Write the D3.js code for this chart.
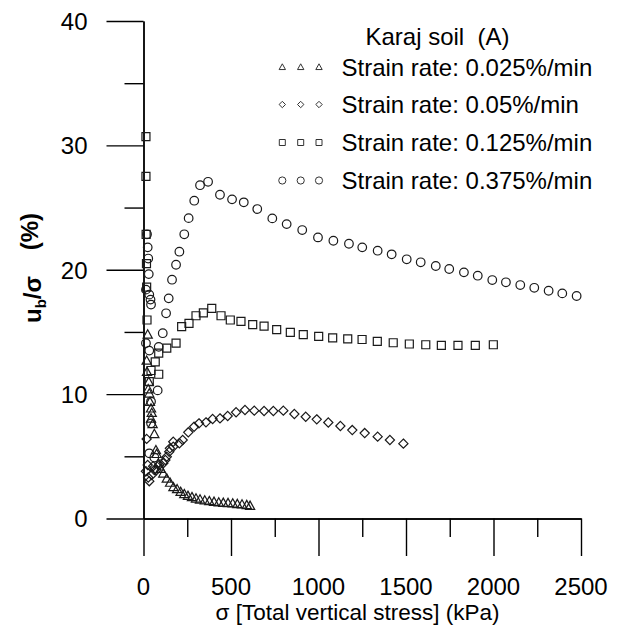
<!DOCTYPE html>
<html>
<head>
<meta charset="utf-8">
<script src="https://cdn.jsdelivr.net/npm/d3@7"></script>
<style>
  html, body { margin: 0; padding: 0; background: #fff; }
  svg { display: block; }
  text { font-family: "Liberation Sans", Arial, Helvetica, sans-serif; fill: #000; }
</style>
</head>
<body>
<svg id="chart" width="622" height="631"></svg>
<script>
// ---------------- data ----------------
const xTicks = [0, 500, 1000, 1500, 2000, 2500];
const xMinorTicks = [250, 750, 1250, 1750, 2250];
const yTicks = [0, 10, 20, 30, 40];
const yMinorTicks = [5, 15, 25, 35];

const legendTitle = "Karaj soil\u00a0\u00a0(A)";
const seriesNames = ["Strain rate: 0.025%/min", "Strain rate: 0.05%/min", "Strain rate: 0.125%/min", "Strain rate: 0.375%/min"];
const seriesShapes = ["triangle", "diamond", "square", "circle"];

// [sigma (kPa), ub/sigma (%)]
const rate0025 = [
  [24,14.8],[18,12.7],[20,11.8],[30,11.0],[27,10.4],[33,10.06],[37,9.39],[43,8.86],[47,8.5],[43,8.05],
  [52,7.6],[62,6.8],[71,5.5],[75,5.2],[85,4.44],[98,4.0],[113,3.63],[133,3.22],[152,2.89],[171,2.53],
  [192,2.37],[212,2.15],[233,1.97],[254,1.83],[277,1.73],[300,1.62],[323,1.54],[350,1.46],[376,1.41],
  [403,1.35],[430,1.30],[456,1.27],[483,1.25],[510,1.22],[536,1.17],[563,1.14],[590,1.09],[609,1.03]
];
const rate005 = [
  [18,6.4],[14,3.8],[24,4.3],[33,3.0],[27,3.3],[47,3.5],[55,4.2],[62,3.9],[75,3.9],[90,4.3],[113,4.44],
  [125,4.7],[133,4.97],[147,5.37],[151,5.64],[170,5.77],[170,6.17],[205,6.05],[224,6.31],[256,6.93],
  [289,7.38],[317,7.65],[357,7.73],[395,8.0],[437,8.05],[481,8.24],[529,8.54],[580,8.72],[633,8.67],
  [689,8.64],[742,8.64],[799,8.67],[862,8.4],[927,8.18],[990,7.97],[1056,7.72],[1125,7.44],[1193,7.11],
  [1264,6.87],[1338,6.58],[1408,6.31],[1485,6.02]
];
const rate0125 = [
  [14,30.7],[14,27.5],[15,22.85],[17,20.5],[18,18.6],[20,15.96],[33,11.0],[43,11.9],[67,12.6],[87,11.6],
  [87,13.3],[133,13.7],[186,14.1],[218,15.42],[260,15.69],[300,16.30],[342,16.54],[390,16.90],[443,16.30],
  [496,15.96],[557,15.85],[624,15.58],[689,15.47],[761,15.18],[839,14.97],[913,14.78],[1001,14.65],
  [1081,14.53],[1167,14.45],[1249,14.39],[1336,14.24],[1427,14.13],[1519,14.03],[1613,13.97],[1702,13.92],
  [1797,13.92],[1896,13.92],[1999,13.97]
];
const rate0375 = [
  [20,22.85],[24,21.8],[27,20.9],[30,19.65],[14,18.4],[33,18.0],[40,17.6],[43,17.2],[14,14.1],[33,13.5],
  [87,13.8],[81,10.3],[43,9.4],[43,7.65],[33,5.24],[62,4.9],
  [110,14.9],[129,16.5],[144,17.7],[163,19.2],[186,20.4],[205,21.45],[233,22.85],[258,24.15],[290,25.55],
  [323,26.8],[369,27.07],[437,26.03],[506,25.66],[573,25.42],[650,24.88],[736,24.13],[818,23.67],
  [907,23.19],[997,22.6],[1085,22.33],[1174,22.09],[1250,21.8],[1338,21.53],[1418,21.24],[1504,20.84],
  [1584,20.6],[1670,20.3],[1747,20.06],[1831,19.79],[1910,19.52],[1993,19.17],[2071,18.99],[2153,18.77],
  [2233,18.55],[2315,18.31],[2393,18.1],[2475,17.89]
];
const seriesData = [rate0025, rate005, rate0125, rate0375];

// ---------------- layout ----------------
const svg = d3.select("#chart");
const x = d3.scaleLinear().domain([0, 2500]).range([143.5, 581]);
const y = d3.scaleLinear().domain([0, 40]).range([518.5, 21]);

function shapePath(type, s) {
  if (type === "circle") {
    return `M${s},0A${s},${s} 0 1,1 ${-s},0A${s},${s} 0 1,1 ${s},0Z`;
  } else if (type === "square") {
    return `M${-s},${-s}H${s}V${s}H${-s}Z`;
  } else if (type === "diamond") {
    return `M0,${-s}L${s},0L0,${s}L${-s},0Z`;
  } else { // triangle
    return `M0,${-s}L${s},${s * 0.8}L${-s},${s * 0.8}Z`;
  }
}
const markSize = { triangle: 4.6, diamond: 4.6, square: 4.0, circle: 4.3 };
const legendSize = { triangle: 3.2, diamond: 3.2, square: 3.0, circle: 3.6 };

// ---------------- axes ----------------
const axisG = svg.append("g");
const xMajor = d3.axisBottom(x).tickValues(xTicks).tickSize(37.5).tickSizeOuter(0).tickFormat("");
const xMinor = d3.axisBottom(x).tickValues(xMinorTicks).tickSize(18.5).tickSizeOuter(0).tickFormat("");
const yMajor = d3.axisLeft(y).tickValues(yTicks).tickSize(37).tickSizeOuter(0).tickFormat("");
const yMinor = d3.axisLeft(y).tickValues(yMinorTicks).tickSize(19).tickSizeOuter(0).tickFormat("");

[[xMajor, `translate(0,${y(0)})`], [xMinor, `translate(0,${y(0)})`],
 [yMajor, `translate(${x(0)},0)`], [yMinor, `translate(${x(0)},0)`]].forEach(([ax, tr]) => {
  const g = axisG.append("g").attr("transform", tr).call(ax);
  g.selectAll("path, line").attr("stroke", "#000").attr("stroke-width", 1.4);
  g.selectAll("text").remove();
});

// tick labels
svg.append("g").selectAll("text").data(xTicks).join("text")
  .attr("x", d => x(d)).attr("y", 595)
  .attr("text-anchor", "middle").attr("font-size", 24)
  .text(d => d);
svg.append("g").selectAll("text").data(yTicks).join("text")
  .attr("x", 87.5).attr("y", d => y(d)).attr("dy", "0.37em")
  .attr("text-anchor", "end").attr("font-size", 24)
  .text(d => d);

// axis titles
svg.append("text")
  .attr("x", 357.5).attr("y", 620)
  .attr("text-anchor", "middle").attr("font-size", 22.5)
  .text("σ [Total vertical stress] (kPa)");

const yt = svg.append("text")
  .attr("transform", "translate(41,323) rotate(-90)")
  .attr("font-size", 24).attr("font-weight", "bold");
yt.append("tspan").text("u");
yt.append("tspan").attr("font-size", 15).attr("dy", 5).text("b");
yt.append("tspan").attr("dy", -5).text("/σ");
svg.append("text")
  .attr("transform", "translate(38,213) rotate(-90)")
  .attr("text-anchor", "end")
  .attr("font-size", 24).attr("font-weight", "bold")
  .text("(%)");

// ---------------- markers ----------------
const markG = svg.append("g");
seriesData.forEach((data, i) => {
  const shape = seriesShapes[i];
  markG.append("g").selectAll("path").data(data).join("path")
    .attr("transform", d => `translate(${x(d[0])},${y(d[1])})`)
    .attr("d", shapePath(shape, markSize[shape]))
    .attr("fill", "none").attr("stroke", "#1a1a1a").attr("stroke-width", 1.2);
});

// ---------------- legend ----------------
const leg = svg.append("g");
leg.append("text").attr("x", 437.5).attr("y", 45).attr("text-anchor", "middle")
  .attr("font-size", 24).text(legendTitle);
const rowY = [67, 104.5, 142.5, 180.5];
seriesNames.forEach((name, i) => {
  const shape = seriesShapes[i];
  const g = leg.append("g");
  [282.3, 300.7, 319].forEach(mx => {
    g.append("path").attr("transform", `translate(${mx},${rowY[i]})`)
      .attr("d", shapePath(shape, legendSize[shape]))
      .attr("fill", "none").attr("stroke", "#333").attr("stroke-width", 1);
  });
  g.append("text").attr("x", 341.5).attr("y", rowY[i] + 8.5)
    .attr("font-size", 24).text(name);
});
</script>
</body>
</html>
